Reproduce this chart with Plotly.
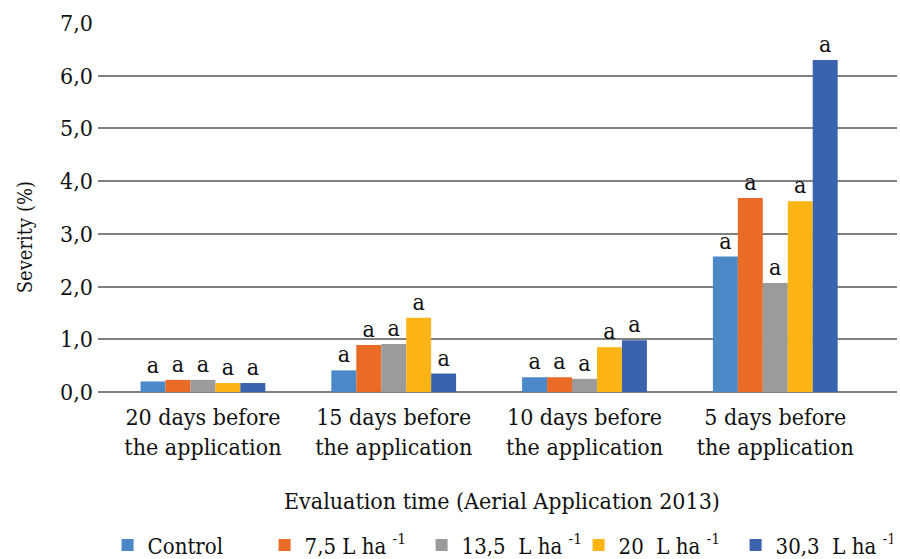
import plotly.graph_objects as go

categories = ["20 days before<br>the application", "15 days before<br>the application",
              "10 days before<br>the application", "5 days before<br>the application"]
series_names = ["Control", "7,5 L ha <sup>-1</sup>", "13,5\u00a0 L ha <sup>-1</sup>",
                "20\u00a0 L ha <sup>-1</sup>", "30,3\u00a0 L ha <sup>-1</sup>"]
control = [0.20, 0.41, 0.28, 2.57]
l75 = [0.23, 0.89, 0.28, 3.68]
l135 = [0.23, 0.91, 0.25, 2.07]
l20 = [0.17, 1.41, 0.85, 3.62]
l303 = [0.17, 0.35, 0.98, 6.30]
letters_control = ["a", "a", "a", "a"]
letters_l75 = ["a", "a", "a", "a"]
letters_l135 = ["a", "a", "a", "a"]
letters_l20 = ["a", "a", "a", "a"]
letters_l303 = ["a", "a", "a", "a"]

values = [control, l75, l135, l20, l303]
letters = [letters_control, letters_l75, letters_l135, letters_l20, letters_l303]
colors = ["#4A88C7", "#EA6B26", "#9B9B9B", "#FDB515", "#3A62AD"]

FONT = "DejaVu Serif Condensed"
TXT = "#111111"

fig = go.Figure()
for name, vals, txt, col in zip(series_names, values, letters, colors):
    fig.add_trace(go.Bar(
        x=categories, y=vals, name=name, marker_color=col, marker_line_width=0,
        text=txt, textposition="outside", cliponaxis=False,
        textfont=dict(family=FONT, size=23, color=TXT),
    ))

fig.update_layout(
    width=900, height=559,
    margin=dict(l=98, r=3, t=23, b=167, autoexpand=False),
    paper_bgcolor="white", plot_bgcolor="white",
    barmode="group", bargap=0.346, bargroupgap=0,
    separators=",.",
    font=dict(family=FONT, size=23, color=TXT),
    showlegend=True,
    legend=dict(orientation="h", x=0.012, xanchor="left", y=-0.415, yanchor="middle",
                font=dict(family=FONT, size=22, color=TXT), traceorder="normal",
                itemwidth=30, entrywidth=112, entrywidthmode="pixels"),
    xaxis=dict(type="category", range=[-0.55, 3.638], showgrid=False, showline=False,
               ticks="", automargin=False, ticklabelstandoff=9,
               tickfont=dict(family=FONT, size=23, color=TXT)),
    yaxis=dict(range=[0, 7], dtick=1, tickformat=".1f", showgrid=True,
               gridcolor="#808080", gridwidth=1.5, zeroline=True, zerolinecolor="#808080",
               zerolinewidth=1.5, showline=False, ticks="", automargin=False,
               ticklabelstandoff=4, tickfont=dict(family=FONT, size=23, color=TXT)),
    annotations=[
        dict(text="Severity (%)", xref="paper", yref="paper", x=-0.091, y=0.42,
             xanchor="center", yanchor="middle", textangle=-90, showarrow=False,
             font=dict(family=FONT, size=20, color=TXT)),
        dict(text="Evaluation time (Aerial Application 2013)", xref="paper", yref="paper",
             x=0.506, y=-0.295, xanchor="center", yanchor="middle", showarrow=False,
             font=dict(family=FONT, size=23, color=TXT)),
    ],
)

fig.write_html("out.html", config={"displayModeBar": False},
               post_script="document.body.style.margin='0';document.body.style.overflow='hidden';")
